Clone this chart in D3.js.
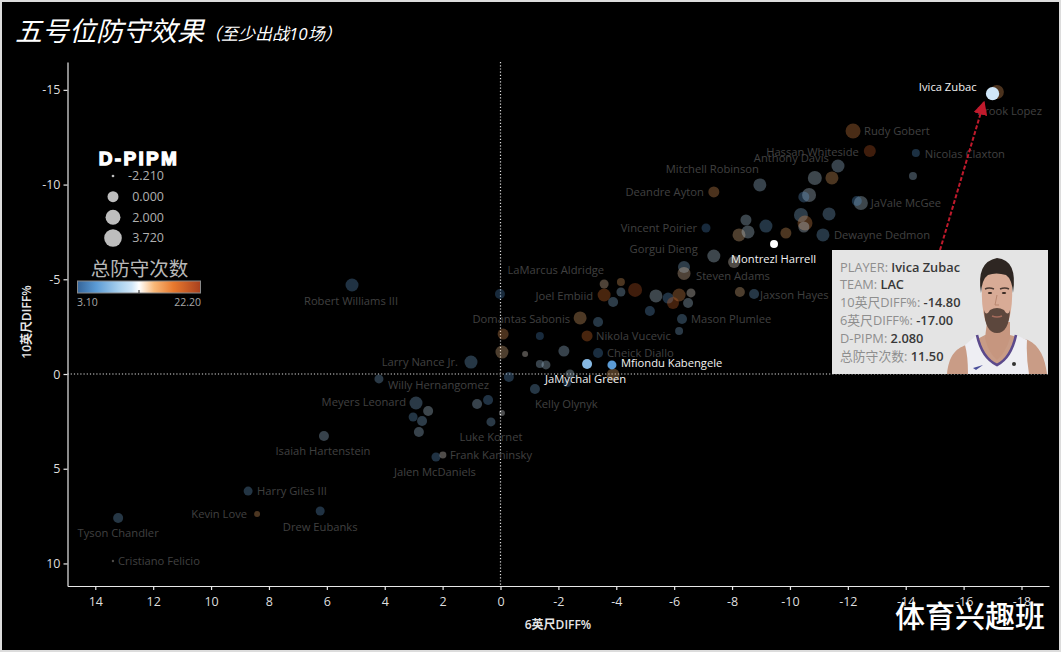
<!DOCTYPE html>
<html>
<head>
<meta charset="utf-8">
<script src="https://cdn.jsdelivr.net/npm/d3@7/dist/d3.min.js"></script>
<style>
html,body{margin:0;padding:0;background:#000;}
svg{display:block;}
text{font-family:"Open Sans","Noto Sans CJK SC",sans-serif;}
</style>
</head>
<body>
<svg></svg>
<script>
// player table, one array per column
var players = ["Brook Lopez","Rudy Gobert","Hassan Whiteside","Nicolas Claxton",null,null,"Anthony Davis",null,"Mitchell Robinson","Deandre Ayton",null,null,"JaVale McGee",null,null,null,null,null,null,null,"Vincent Poirier",null,null,null,"Dewayne Dedmon","Gorgui Dieng",null,null,"Steven Adams","LaMarcus Aldridge",null,null,"Joel Embiid",null,null,null,null,null,null,null,null,null,"Jaxson Hayes",null,"Domantas Sabonis",null,"Mason Plumlee",null,null,null,null,"Nikola Vucevic",null,null,null,"Cheick Diallo","Larry Nance Jr.",null,null,null,null,null,null,"Kelly Olynyk",null,null,null,"Robert Williams III","Willy Hernangomez","Meyers Leonard",null,null,null,null,"Luke Kornet","Isaiah Hartenstein","Jalen McDaniels","Frank Kaminsky","Harry Giles III","Kevin Love","Drew Eubanks","Tyson Chandler","Cristiano Felicio","Montrezl Harrell","JaMychal Green","Mfiondu Kabengele","Ivica Zubac"];
var diff6 = [-17.15,-12.18,-12.76,-14.35,-14.25,-11.66,-10.86,-11.45,-8.96,-7.37,-10.66,-10.48,-12.45,-12.31,-11.35,-10.38,-10.52,-10.48,-8.48,-9.17,-7.10,-8.24,-8.55,-9.86,-11.14,-7.37,-8.07,-6.34,-6.34,-3.58,-4.16,-4.65,-3.58,-4.16,-3.89,-5.37,-5.79,-6.17,-5.96,-6.58,-6.48,-8.27,-8.76,-5.16,-2.75,-3.37,-6.27,-6.17,0.02,-0.09,-1.36,-2.99,-0.05,-0.85,-2.19,-3.37,1.02,-1.36,-1.57,-2.40,-2.30,-3.89,-0.29,-1.19,0.43,0.81,-0.05,5.13,4.20,2.92,2.50,3.02,2.71,2.82,0.33,6.10,2.23,1.99,8.72,8.41,6.23,13.21,13.39,-9.45,-2.99,-3.85,-17.00];
var diff10 = [-14.89,-12.83,-11.77,-11.67,-10.45,-10.98,-10.35,-10.35,-9.98,-9.61,-9.45,-9.35,-9.03,-9.13,-8.45,-8.39,-7.97,-7.76,-8.13,-7.81,-7.71,-7.34,-7.50,-7.44,-7.34,-6.23,-5.91,-5.65,-5.31,-4.75,-4.86,-4.44,-4.17,-4.33,-3.80,-4.12,-4.01,-4.17,-3.75,-4.28,-3.75,-4.33,-4.22,-3.33,-2.96,-2.75,-2.90,-2.27,-4.22,-2.11,-2.01,-2.01,-1.16,-1.06,-1.21,-1.11,-0.63,-0.53,-0.48,0,0.48,0.05,0.16,0.79,1.37,1.58,2.06,-4.70,0.26,1.53,1.95,2.27,2.48,3.06,2.53,3.27,4.38,4.28,6.18,7.39,7.23,7.60,9.87,-6.86,-0.53,-0.48,-14.80];
var dPipm = [2.54,3.26,1.24,-0.76,-0.76,1.87,2.54,1.87,1.87,0.67,2.54,0.67,2.54,0.14,1.87,2.54,3.26,0.67,0.67,1.87,-0.34,1.87,1.87,0.67,1.87,1.87,1.24,1.24,1.87,-0.34,-0.76,2.54,1.87,-0.34,0.14,1.87,0.67,1.87,1.24,-0.34,0.14,0.14,0.14,0.14,1.87,0.14,0.14,-0.76,0.14,0.67,-0.76,0.67,1.87,-1.46,0.67,0.14,1.87,-0.76,-0.34,-0.34,-0.76,1.87,0.14,0.14,0.14,0.14,-1.46,1.87,-0.34,1.87,0.14,-0.34,0.14,0.14,-0.34,0.14,-0.34,-1.14,-0.34,-1.46,-0.34,0.14,-2.21,-0.76,0.14,-0.34,2.08];
var defPoss = [16,17,20,6,10,10,11,15.5,10,16,11.5,6.5,11,6,8,8.5,16.5,11.5,10.5,7,5,14.5,11,15.5,7.5,11,13.2,8.5,14,14,15.5,20,18,9,8.5,11,6.5,16.5,19,13,10.5,14.5,7.5,6.5,15,7.5,7.5,8,5,16,5,18,14.5,13,10,5.5,7.5,10,10.5,11,4.5,15,6.5,7.5,6.5,10,12.5,6.5,8,8,11,7,8.5,10,8,10,6.5,13,7,15.5,6.5,7.5,13,12.65,8,6,11.5];
var selectedPlayers = ["Ivica Zubac","Montrezl Harrell","Mfiondu Kabengele","JaMychal Green"];

var xTicks = [14,12,10,8,6,4,2,0,-2,-4,-6,-8,-10,-12,-14,-16,-18];
var yTicks = [-15,-10,-5,0,5,10];
var sizeLegend = [-2.21,0,2,3.72];
var colorExtent = [3.1,22.2];
var tooltipRows = [["PLAYER: ","Ivica Zubac"],["TEAM: ","LAC"],["10英尺DIFF%: ","-14.80"],["6英尺DIFF%: ","-17.00"],["D-PIPM: ","2.080"],["总防守次数: ","11.50"]];

// label placement next to each point: dx, dy, anchor
var labelPlace = {
  "Ivica Zubac":[-16,-7,"end"], "Brook Lopez":[45,19,"end"], "Rudy Gobert":[11,0,"start"],
  "Hassan Whiteside":[-11,1,"end"], "Anthony Davis":[14,-20,"end"], "Nicolas Claxton":[9,1,"start"],
  "Mitchell Robinson":[-1,-16,"end"], "Deandre Ayton":[-10,0,"end"], "JaVale McGee":[10,0,"start"],
  "Vincent Poirier":[-9,0,"end"], "Dewayne Dedmon":[11,0,"start"], "Gorgui Dieng":[-16,-7,"end"],
  "Montrezl Harrell":[-43,15,"start"], "Steven Adams":[12,3,"start"], "LaMarcus Aldridge":[0,-14,"end"],
  "Joel Embiid":[-11,1,"end"], "Jaxson Hayes":[6,1,"start"], "Domantas Sabonis":[-10,1,"end"],
  "Mason Plumlee":[9,0,"start"], "Nikola Vucevic":[9,0,"start"], "Cheick Diallo":[9,0,"start"],
  "Mfiondu Kabengele":[9,-2,"start"], "Larry Nance Jr.":[-13,0,"end"], "JaMychal Green":[-42,15,"start"],
  "Willy Hernangomez":[9,6,"start"], "Meyers Leonard":[-10,-1,"end"], "Kelly Olynyk":[0,15,"start"],
  "Luke Kornet":[0,15,"middle"], "Isaiah Hartenstein":[-1,15,"middle"], "Frank Kaminsky":[7,0,"start"],
  "Jalen McDaniels":[-1,15,"middle"], "Harry Giles III":[9,0,"start"], "Kevin Love":[-10,0,"end"],
  "Drew Eubanks":[0,16,"middle"], "Tyson Chandler":[0,15,"middle"], "Cristiano Felicio":[5,0,"start"],
  "Robert Williams III":[-1,16,"middle"]
};

var width = 1061, height = 652;
var svg = d3.select("svg").attr("width", width).attr("height", height);

svg.append("rect").attr("x",1).attr("y",1).attr("width",width-2).attr("height",height-2)
  .attr("fill","#000").attr("stroke","#dcdcdc").attr("stroke-width",2);

// scales
var x = d3.scaleLinear().domain([14.96,-18.95]).range([67.5,1049]);
var y = d3.scaleLinear().domain([-16.47,11.19]).range([62,586]);
var area = d3.scaleLinear().domain([-2.21,3.72]).range([1.44,60.8]);
function radius(p){ return Math.sqrt(area(p)); }
var colorMid = (colorExtent[0]+colorExtent[1])/2;
var color = d3.scaleLinear()
  .domain([colorExtent[0],6,9.5,11.5,colorMid,15,18,colorExtent[1]])
  .range(["#35659a","#5b9bd5","#a8d0ee","#cfe6f8","#ffffff","#f8b878","#e8792e","#a8401e"]);

// title
svg.append("text").attr("x",15).attr("y",41)
  .attr("fill","#fff").attr("font-size",27).attr("font-style","italic").attr("font-weight",400)
  .text("五号位防守效果");
svg.append("text").attr("x",204).attr("y",40)
  .attr("fill","#fff").attr("font-size",17).attr("font-style","italic").attr("font-weight",400)
  .text("（至少出战10场）");

// axes
var xAxis = svg.append("g").attr("transform","translate(0,586)")
  .call(d3.axisBottom(x).tickValues(xTicks).tickFormat(String).tickSize(4).tickSizeOuter(0));
var yAxis = svg.append("g").attr("transform","translate(67.5,0)")
  .call(d3.axisLeft(y).tickValues(yTicks).tickFormat(String).tickSize(4).tickSizeOuter(0));
[xAxis,yAxis].forEach(function(a){
  a.selectAll("path,line").attr("stroke","#e8e8e8").attr("stroke-width",1.2);
  a.selectAll("text").attr("fill","#dedede").attr("font-size",12.5)
    .style("font-family","'Open Sans',sans-serif");
});
xAxis.selectAll("text").attr("dy","1.05em");

svg.append("text").attr("x",558).attr("y",629).attr("text-anchor","middle")
  .attr("fill","#e6e6e6").attr("font-size",12).attr("font-weight",600).text("6英尺DIFF%");
svg.append("text").attr("transform","translate(31,322) rotate(-90)").attr("text-anchor","middle")
  .attr("fill","#e6e6e6").attr("font-size",12).attr("font-weight",600).text("10英尺DIFF%");

// zero lines
svg.append("line").attr("x1",x(0)).attr("x2",x(0)).attr("y1",62).attr("y2",586)
  .attr("stroke","#ddd").attr("stroke-width",1.2).attr("stroke-dasharray","1.2 2");
svg.append("line").attr("x1",67.5).attr("x2",1049).attr("y1",y(0)).attr("y2",y(0))
  .attr("stroke","#ddd").attr("stroke-width",1.2).attr("stroke-dasharray","1.2 2");

// points
var rows = d3.range(players.length).map(function(i){
  return {name:players[i], x:diff6[i], y:diff10[i], p:dPipm[i], d:defPoss[i],
          on:selectedPlayers.indexOf(players[i])>=0};
});

svg.append("g").selectAll("circle").data(rows).enter().append("circle")
  .attr("cx",function(d){return x(d.x);})
  .attr("cy",function(d){return y(d.y);})
  .attr("r",function(d){return radius(d.p);})
  .attr("fill",function(d){return color(d.d);})
  .attr("opacity",function(d){return d.on?1:0.31;});

svg.append("g").selectAll("text").data(rows.filter(function(d){return d.name;})).enter().append("text")
  .attr("x",function(d){return x(d.x)+labelPlace[d.name][0];})
  .attr("y",function(d){return y(d.y)+labelPlace[d.name][1];})
  .attr("dy","0.35em")
  .attr("text-anchor",function(d){return labelPlace[d.name][2];})
  .attr("fill",function(d){return d.on?"#f2f2f2":"#404040";})
  .attr("font-size",11.2)
  .text(function(d){return d.name;});

// size legend
svg.append("text").attr("x",139).attr("y",165).attr("text-anchor","middle")
  .attr("fill","#fff").attr("stroke","#fff").attr("stroke-width",1.3)
  .attr("font-size",19).attr("font-weight",700).attr("letter-spacing",2.3)
  .style("font-family","'Liberation Sans',sans-serif").text("D-PIPM");
var legendY = d3.scalePoint().domain(sizeLegend).range([176,238]);
var sizeRow = svg.append("g").selectAll("g").data(sizeLegend).enter().append("g")
  .attr("transform",function(d){return "translate(113,"+legendY(d)+")";});
sizeRow.append("circle").attr("r",function(d){return radius(d)*1.13;}).attr("fill","#bdbdbd");
sizeRow.append("text").attr("x",51).attr("dy","0.35em").attr("text-anchor","end")
  .attr("fill","#b0b0b0").attr("font-size",12.5)
  .text(function(d){return d3.format(".3f")(d).replace("−","-");});

// colour legend
svg.append("text").attr("x",139.5).attr("y",276).attr("text-anchor","middle")
  .attr("fill","#b8b8b8").attr("font-size",19.5).text("总防守次数");
var grad = svg.append("defs").append("linearGradient").attr("id","defgrad");
color.domain().forEach(function(v){
  grad.append("stop")
    .attr("offset",(v-colorExtent[0])/(colorExtent[1]-colorExtent[0]))
    .attr("stop-color",color(v));
});
svg.append("rect").attr("x",77.5).attr("y",281).attr("width",123).attr("height",12)
  .attr("fill","url(#defgrad)").attr("stroke","#888").attr("stroke-width",1);
svg.append("line").attr("x1",139).attr("x2",139).attr("y1",290).attr("y2",293).attr("stroke","#222");
svg.append("text").attr("x",77).attr("y",306).attr("fill","#a8a8a8").attr("font-size",10.5).text(d3.format(".2f")(colorExtent[0]));
svg.append("text").attr("x",201).attr("y",306).attr("text-anchor","end").attr("fill","#a8a8a8").attr("font-size",10.5).text(d3.format(".2f")(colorExtent[1]));

// arrow to the selected player
svg.append("defs").append("marker").attr("id","head")
  .attr("viewBox","0 0 10 10").attr("refX",9).attr("refY",5)
  .attr("markerWidth",14).attr("markerHeight",14).attr("markerUnits","userSpaceOnUse").attr("orient","auto")
  .append("path").attr("d","M0,0L10,5L0,10Z").attr("fill","#c01a2c");
svg.append("line").attr("x1",940).attr("y1",250).attr("x2",984).attr("y2",102)
  .attr("stroke","#c01a2c").attr("stroke-width",2).attr("stroke-dasharray","4 2")
  .attr("marker-end","url(#head)");

// tooltip card
var card = svg.append("g");
card.append("rect").attr("x",832).attr("y",250).attr("width",216).attr("height",124).attr("fill","#e4e4e4");
var tip = card.selectAll("text").data(tooltipRows).enter().append("text")
  .attr("x",840).attr("y",function(d,i){return 271.5+i*17.9;}).attr("font-size",12.8);
tip.append("tspan").attr("fill","#8e8e8e").text(function(d){return d[0];});
tip.append("tspan").attr("fill","#383838").attr("font-weight",600).text(function(d){return d[1];});

// portrait
var blur = svg.append("defs").append("filter").attr("id","soft");
blur.append("feGaussianBlur").attr("stdDeviation",0.7);
var face = card.append("g").attr("filter","url(#soft)");
face.append("path").attr("d","M947,374C949,356 955,349 966,345L985,335H1010L1028,340C1040,346 1045,358 1047,374Z").attr("fill","#c99c86");
face.append("path").attr("d","M968,374Q968,356 965,345L977,335Q982,358 997,365Q1011,358 1016,335L1027,340Q1026,356 1029,374Z").attr("fill","#eeeef3");
face.append("path").attr("d","M977,335Q982,358 997,365Q1011,358 1016,335").attr("fill","none").attr("stroke","#5b4a8c").attr("stroke-width",2.6);
face.append("path").attr("d","M987,322H1010V338Q1006,352 997,360Q988,352 985,338Z").attr("fill","#c6967f");
face.append("path").attr("d","M982,285Q982,270 997,268Q1012,270 1012,285Q1013,305 1009,320Q1003,332 997,332Q990,332 985,320Q981,305 982,285Z").attr("fill","#d8ab96");
face.append("path").attr("d","M984,310Q985,333 997,333Q1009,333 1010,310Q1008,317 1004,310Q997,306 990,310Q986,317 984,310Z").attr("fill","#5c463c");
face.append("path").attr("d","M981,293Q976,262 997,258Q1018,260 1013,293Q1012,279 1006,275Q996,272 988,275Q982,279 981,293Z").attr("fill","#2e2622");
face.append("path").attr("d","M985,289Q989,287 994,289M1000,289Q1005,287 1009,289").attr("fill","none").attr("stroke","#4a3830").attr("stroke-width",1.4);
face.append("ellipse").attr("cx",990).attr("cy",293).attr("rx",2.2).attr("ry",1).attr("fill","#33261f");
face.append("ellipse").attr("cx",1004).attr("cy",293).attr("rx",2.2).attr("ry",1).attr("fill","#33261f");
face.append("path").attr("d","M997,295L995,305H999").attr("fill","none").attr("stroke","#b98770").attr("stroke-width",1);
face.append("path").attr("d","M992,316Q997,318 1002,316").attr("fill","none").attr("stroke","#a56c5c").attr("stroke-width",1.6);
face.append("path").attr("d","M973,368L983,365L976,370Z").attr("fill","#4a4f9a");
face.append("circle").attr("cx",1014).attr("cy",364).attr("r",2).attr("fill","#333");

// watermark
svg.append("text").attr("x",895).attr("y",627)
  .attr("fill","#fff").attr("font-size",30).attr("font-weight",500).text("体育兴趣班");
</script>
</body>
</html>
